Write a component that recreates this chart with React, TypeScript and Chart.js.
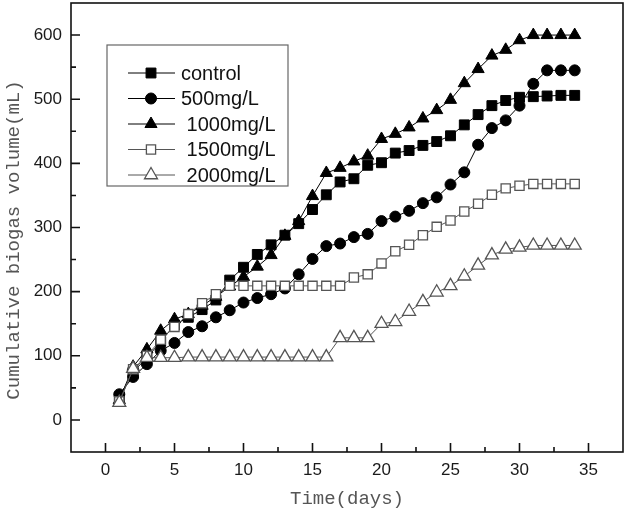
import { useEffect, useRef } from "react"
import { Chart, registerables, type ChartConfiguration, type Plugin } from "chart.js"
import { drawPoint } from "chart.js/helpers"

Chart.register(...registerables)

const days = [1, 2, 3, 4, 5, 6, 7, 8, 9, 10, 11, 12, 13, 14, 15, 16, 17, 18, 19, 20, 21, 22, 23, 24, 25, 26, 27, 28, 29, 30, 31, 32, 33, 34]
const xTicks = [0, 5, 10, 15, 20, 25, 30, 35]
const yTicks = [0, 100, 200, 300, 400, 500, 600]
const seriesLabels = ["control", "500mg/L", " 1000mg/L", " 1500mg/L", " 2000mg/L"]

const control = [35, 75, 97, 122, 148, 160, 172, 187, 218, 238, 258, 273, 288, 306, 328, 351, 371, 376, 397, 401, 416, 420, 428, 434, 443, 460, 476, 490, 498, 503, 504, 505, 506, 506]
const mg500 = [40, 67, 87, 108, 120, 137, 146, 160, 171, 183, 190, 196, 205, 227, 251, 271, 275, 285, 290, 310, 317, 326, 338, 347, 367, 386, 429, 455, 467, 490, 524, 545, 545, 545]
const mg1000 = [31, 83, 110, 139, 157, 165, 178, 192, 208, 223, 239, 257, 287, 310, 349, 385, 393, 403, 412, 438, 446, 456, 470, 483, 499, 525, 547, 568, 577, 592, 600, 600, 600, 600]
const mg1500 = [29, 79, 100, 125, 145, 165, 182, 196, 209, 209, 209, 209, 209, 209, 209, 209, 209, 222, 227, 244, 263, 273, 288, 301, 311, 325, 337, 351, 361, 365, 368, 368, 368, 368]
const mg2000 = [27, 80, 97, 97, 97, 98, 98, 98, 98, 98, 98, 98, 98, 98, 98, 98, 128, 128, 128, 150, 153, 169, 184, 199, 209, 224, 241, 257, 266, 269, 272, 272, 272, 272]

const seriesValues = [control, mg500, mg1000, mg1500, mg2000]
const pointStyles = ["rect", "circle", "triangle", "rect", "triangle"] as const
const pointSizes = [7, 5.5, 7, 6.5, 7.5]
const filled = [true, true, true, false, false]

// box, inward ticks, titles and the legend are drawn by hand
const framePlugin: Plugin = {
  id: "frame",
  beforeDatasetsDraw(chart) {
    const { ctx, chartArea: a } = chart
    const xs = chart.scales.x
    const ys = chart.scales.y
    const xMinor = xTicks.slice(1).map((t, i) => (t + xTicks[i]) / 2)
    const yMinor = yTicks.slice(1).map((t, i) => (t + yTicks[i]) / 2)
    ctx.save()
    ctx.strokeStyle = "#111"
    ctx.lineWidth = 1.6
    ctx.strokeRect(a.left, a.top, a.right - a.left, a.bottom - a.top)
    ctx.beginPath()
    xTicks.forEach((t) => {
      const px = xs.getPixelForValue(t)
      ctx.moveTo(px, a.bottom)
      ctx.lineTo(px, a.bottom - 9)
    })
    xMinor.forEach((t) => {
      const px = xs.getPixelForValue(t)
      ctx.moveTo(px, a.bottom)
      ctx.lineTo(px, a.bottom - 5)
    })
    yTicks.forEach((t) => {
      const py = ys.getPixelForValue(t)
      ctx.moveTo(a.left, py)
      ctx.lineTo(a.left + 9, py)
    })
    yMinor.forEach((t) => {
      const py = ys.getPixelForValue(t)
      ctx.moveTo(a.left, py)
      ctx.lineTo(a.left + 5, py)
    })
    ctx.stroke()
    ctx.restore()
  },
  afterDraw(chart) {
    const { ctx, chartArea: a } = chart
    ctx.save()
    // axis titles
    ctx.fillStyle = "#555"
    ctx.font = "19px 'Liberation Mono'"
    ctx.textAlign = "center"
    ctx.textBaseline = "middle"
    ctx.fillText("Time(days)", (a.left + a.right) / 2, 499)
    ctx.translate(14, 240)
    ctx.rotate(-Math.PI / 2)
    ctx.fillText("Cumulative biogas volume(mL)", 0, 0)
    ctx.restore()

    // legend box
    ctx.save()
    ctx.strokeStyle = "#666"
    ctx.lineWidth = 1.2
    ctx.strokeRect(107, 45, 181, 141)
    ctx.font = "20px 'Liberation Sans'"
    ctx.textAlign = "left"
    ctx.textBaseline = "middle"
    chart.data.datasets.forEach((ds: any, i) => {
      const yRow = 73 + i * 25.5
      ctx.strokeStyle = ds.borderColor
      ctx.lineWidth = 1
      ctx.beginPath()
      ctx.moveTo(128, yRow)
      ctx.lineTo(175, yRow)
      ctx.stroke()
      ctx.fillStyle = ds.pointBackgroundColor
      ctx.strokeStyle = ds.pointBorderColor
      ctx.lineWidth = ds.pointBorderWidth
      drawPoint(ctx, { pointStyle: ds.pointStyle, radius: ds.pointRadius, rotation: 0, borderWidth: ds.pointBorderWidth }, 151, yRow)
      ctx.fillStyle = "#111"
      ctx.fillText(ds.label, 181, yRow + 1)
    })
    ctx.restore()
  },
}

export default function App() {
  const chartRef = useRef<HTMLCanvasElement>(null)
  const chartInstance = useRef<Chart | null>(null)

  useEffect(() => {
    document.body.style.margin = "0"
    if (!chartRef.current) return
    const ctx = chartRef.current.getContext("2d")
    if (!ctx) return

    if (chartInstance.current) {
      chartInstance.current.destroy()
    }

    const config: ChartConfiguration = {
      type: "line",
      data: {
        datasets: seriesValues.map((vals, i) => ({
          label: seriesLabels[i],
          data: days.map((d, j) => ({ x: d, y: vals[j] })),
          borderColor: filled[i] ? "#000" : "#555",
          borderWidth: 1,
          tension: 0,
          pointStyle: pointStyles[i],
          pointRadius: pointSizes[i],
          pointHoverRadius: pointSizes[i],
          pointBackgroundColor: filled[i] ? "#000" : "#fff",
          pointBorderColor: filled[i] ? "#000" : "#555",
          pointBorderWidth: filled[i] ? 1 : 1.3,
          order: seriesValues.length - i,
          clip: false,
        })),
      },
      options: {
        responsive: true,
        maintainAspectRatio: false,
        animation: false,
        layout: { autoPadding: false, padding: { left: 0, top: 3, right: 3, bottom: 0 } },
        plugins: {
          legend: { display: false },
          tooltip: { enabled: false },
        },
        scales: {
          x: {
            type: "linear",
            min: -2.5,
            max: 37.5,
            afterBuildTicks: (scale) => {
              scale.ticks = xTicks.map((v) => ({ value: v }))
            },
            afterFit: (scale: any) => {
              scale.height = 62
              scale.paddingLeft = 0
              scale.paddingRight = 0
            },
            grid: { display: false, drawTicks: false },
            border: { display: false },
            ticks: {
              padding: 8,
              color: "#1a1a1a",
              font: { family: "'Liberation Sans'", size: 17 },
            },
          },
          y: {
            type: "linear",
            min: -50,
            max: 650,
            afterBuildTicks: (scale) => {
              scale.ticks = yTicks.map((v) => ({ value: v }))
            },
            afterFit: (scale: any) => {
              scale.width = 71
              scale.paddingTop = 0
              scale.paddingBottom = 0
            },
            grid: { display: false, drawTicks: false },
            border: { display: false },
            ticks: {
              padding: 9,
              color: "#1a1a1a",
              font: { family: "'Liberation Sans'", size: 17 },
            },
          },
        },
      },
      plugins: [framePlugin],
    }

    chartInstance.current = new Chart(ctx, config)

    return () => {
      if (chartInstance.current) {
        chartInstance.current.destroy()
      }
    }
  }, [])

  return (
    <div style={{ width: 626, height: 514, position: "relative" }}>
      <canvas ref={chartRef} />
    </div>
  )
}
